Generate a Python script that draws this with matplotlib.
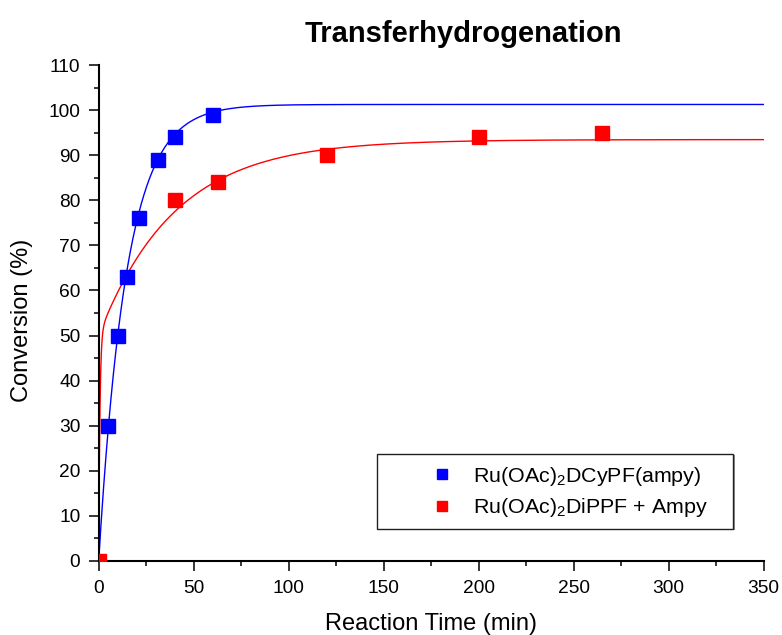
import numpy as np
import matplotlib
matplotlib.use("Agg")
import matplotlib.pyplot as plt
from matplotlib.ticker import MultipleLocator
from matplotlib.patches import Rectangle

plt.rcParams['font.family'] = ['Liberation Sans', 'DejaVu Sans']
plt.rcParams['mathtext.fontset'] = 'custom'
plt.rcParams['mathtext.rm'] = 'Liberation Sans'
plt.rcParams['mathtext.it'] = 'Liberation Sans'
plt.rcParams['mathtext.default'] = 'regular'

# Data
blue_time = [5, 10, 15, 21, 31, 40, 60]
blue_conv = [30, 50, 63, 76, 89, 94, 99]
red_time = [0, 40, 63, 120, 200, 265]
red_conv = [0, 80, 84, 90, 94, 95]

blue_label = r'Ru(OAc)$_2$DCyPF(ampy)'
red_label = r'Ru(OAc)$_2$DiPPF + Ampy'

# Fit parameters (exponential fits)
blue_A, blue_k = 101.3, 0.068
red_A1, red_k1, red_A2, red_k2 = 50.0, 1.6, 43.5, 0.025

fig = plt.figure(figsize=(7.82, 6.35), dpi=100)
ax = fig.add_axes([0.1262, 0.117, 0.8504, 0.7802])

xf = np.linspace(0, 350, 3000)
blue_fit = blue_A * (1 - np.exp(-blue_k * xf))
red_fit = red_A1 * (1 - np.exp(-red_k1 * xf)) + red_A2 * (1 - np.exp(-red_k2 * xf))

ax.plot(xf, red_fit, color='red', lw=1.0, zorder=2)
ax.plot(xf, blue_fit, color='blue', lw=1.0, zorder=2)
ax.plot(blue_time, blue_conv, 's', color='blue', ms=9.5, ls='none', label=blue_label, zorder=3)
ax.plot(red_time, red_conv, 's', color='red', ms=9.5, ls='none', label=red_label, zorder=3)

ax.set_xlim(0, 350)
ax.set_ylim(0, 110)
ax.xaxis.set_major_locator(MultipleLocator(50))
ax.xaxis.set_minor_locator(MultipleLocator(25))
ax.yaxis.set_major_locator(MultipleLocator(10))
ax.yaxis.set_minor_locator(MultipleLocator(5))
ax.tick_params(which='major', direction='out', length=7.2, width=1.1, labelsize=13.8)
ax.tick_params(axis='x', which='major', pad=7)
ax.tick_params(axis='y', which='major', pad=6)
ax.tick_params(which='minor', direction='out', length=3.6, width=1.1)
for s in ['top', 'right']:
    ax.spines[s].set_visible(False)
for s in ['left', 'bottom']:
    ax.spines[s].set_linewidth(1.5)

ax.set_xlabel('Reaction Time (min)', fontsize=17)
ax.set_ylabel('Conversion (%)', fontsize=17)
ax.xaxis.set_label_coords(0.5, -0.106)
ax.yaxis.set_label_coords(-0.099, 0.485)
ax.set_title('Transferhydrogenation', fontsize=21, fontweight='bold', pad=17, x=0.549)

# Legend frame
ax.add_patch(Rectangle((0.421, 0.0625), 0.5355, 0.151, transform=ax.transAxes,
                       facecolor='#909090', edgecolor='none', zorder=4, clip_on=False))
ax.add_patch(Rectangle((0.419, 0.0646), 0.5353, 0.1508, transform=ax.transAxes,
                       facecolor='white', edgecolor='#202020', lw=1.0, zorder=4, clip_on=False))

leg = ax.legend(loc='center left', bbox_to_anchor=(0.4845, 0.139), borderaxespad=0,
                fontsize=15.4, frameon=False, borderpad=0,
                markerscale=0.83, handlelength=2.0, handletextpad=0.43,
                labelspacing=0.4)
leg.set_zorder(5)

fig.savefig('out.png', dpi=100)
